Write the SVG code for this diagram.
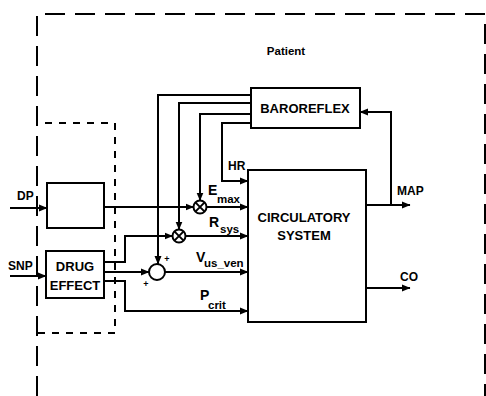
<svg xmlns="http://www.w3.org/2000/svg" width="486" height="396" viewBox="0 0 486 396">
<defs>
<marker id="arr" markerWidth="9" markerHeight="8" refX="8" refY="4" orient="auto" markerUnits="userSpaceOnUse">
<path d="M0,0.5 L8.5,4 L0,7.5 z" fill="#000"/>
</marker>
<style>
.box{fill:#fff;stroke:#000;stroke-width:2}
.ln{fill:none;stroke:#000;stroke-width:2;marker-end:url(#arr)}
.ln0{fill:none;stroke:#000;stroke-width:2}
.t{font-family:"Liberation Sans",Arial,sans-serif;font-weight:bold;fill:#000}
.bt{font-size:13px;text-anchor:middle}
.lb{font-size:12px}
.sub{font-size:11.5px}
.big{font-size:14px}
.dash1{fill:none;stroke:#000;stroke-width:2;stroke-dasharray:20 10}
.dash2{fill:none;stroke:#000;stroke-width:2;stroke-dasharray:7 7}
</style>
</defs>
<rect width="486" height="396" fill="#fff"/>

<g id="patient-boundary">
<path class="dash1" d="M37,396 V14 H485 V396"/>
<text class="t" x="286" y="55" font-size="11.5" text-anchor="middle">Patient</text>
</g>

<g id="drug-boundary">
<path class="dash2" d="M45,123 H115 V333 H37"/>
</g>

<g id="connectors">
<path class="ln" d="M10,208 H47"/>
<path class="ln" d="M10,276 H46"/>
<path class="ln" d="M104,207 H193.5"/>
<path class="ln" d="M206.5,207 H248"/>
<path class="ln" d="M251,95 H158 V264"/>
<path class="ln" d="M251,103 H179 V229.5"/>
<path class="ln" d="M251,114 H200 V200.5"/>
<path class="ln" d="M251,123 H222 V181 H248"/>
<path class="ln" d="M104,262 H125 V236 H172.5"/>
<path class="ln" d="M185.5,236 H248"/>
<path class="ln" d="M104,272 H149"/>
<path class="ln" d="M165,272 H248"/>
<path class="ln" d="M104,281 H125 V311 H248"/>
<path class="ln" d="M366,205 H410"/>
<path class="ln" d="M391,205 V112 H360"/>
<path class="ln" d="M366,288 H410"/>
</g>

<g id="baroreflex">
<rect class="box" x="251" y="88" width="109" height="40"/>
<text class="t bt" x="305" y="113">BAROREFLEX</text>
</g>

<g id="circulatory-system">
<rect class="box" x="248" y="170" width="118" height="152"/>
<text class="t bt" x="304" y="222">CIRCULATORY</text>
<text class="t bt" x="304" y="240">SYSTEM</text>
</g>

<g id="dp-block">
<rect class="box" x="47" y="183" width="57" height="45"/>
</g>

<g id="drug-effect">
<rect class="box" x="46" y="251" width="58" height="47"/>
<text class="t bt" x="75" y="271">DRUG</text>
<text class="t bt" x="75" y="290">EFFECT</text>
</g>

<g id="mult-emax">
<circle class="box" cx="200" cy="207" r="6.5"/>
<path class="ln0" d="M195.4,202.4 L204.6,211.6 M204.6,202.4 L195.4,211.6" stroke-width="1.6"/>
</g>

<g id="mult-rsys">
<circle class="box" cx="179" cy="236" r="6.5"/>
<path class="ln0" d="M174.4,231.4 L183.6,240.6 M183.6,231.4 L174.4,240.6" stroke-width="1.6"/>
</g>

<g id="sum-junction">
<circle class="box" cx="157" cy="272" r="8"/>
<text class="t" x="167" y="262" font-size="9" text-anchor="middle">+</text>
<text class="t" x="146" y="287" font-size="9" text-anchor="middle">+</text>
</g>

<g id="labels">
<text class="t lb" x="17" y="200">DP</text>
<text class="t lb" x="8" y="270">SNP</text>
<text class="t lb" x="228" y="170">HR</text>
<text class="t big" x="208" y="195">E</text>
<text class="t sub" x="217" y="203">max</text>
<text class="t big" x="209" y="227">R</text>
<text class="t sub" x="220" y="233">sys</text>
<text class="t big" x="196" y="262">V</text>
<text class="t sub" x="204" y="267">us_ven</text>
<text class="t big" x="200" y="300">P</text>
<text class="t sub" x="208" y="309">crit</text>
<text class="t lb" x="397" y="195">MAP</text>
<text class="t lb" x="400" y="281">CO</text>
</g>
</svg>
